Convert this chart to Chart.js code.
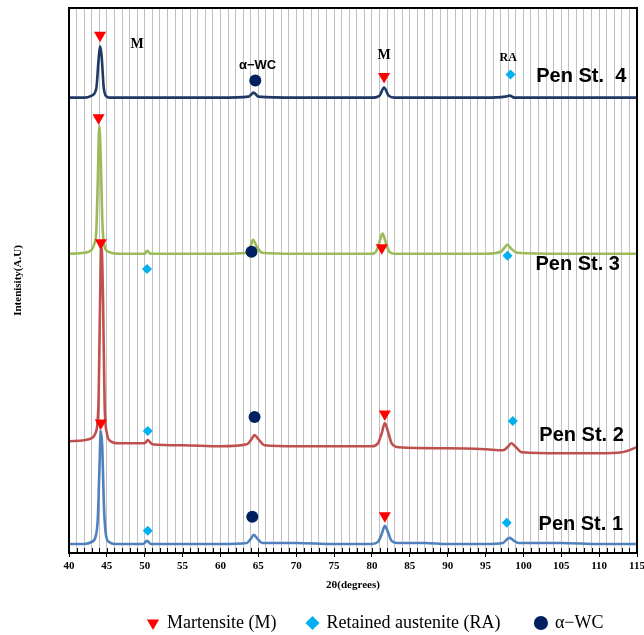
<!DOCTYPE html>
<html>
<head>
<meta charset="utf-8">
<script src="https://cdn.jsdelivr.net/npm/chart.js@4.4.0/dist/chart.umd.min.js"></script>
<style>
  html, body { margin: 0; padding: 0; background: #fff; }
</style>
</head>
<body>
<canvas id="xrd" width="644" height="635"></canvas>
<script>
// 2theta positions and intensities (arbitrary units, curves stacked with offsets)
const st1X = [40, 42, 43, 43.5, 43.8, 44.0, 44.2, 44.4, 44.6, 44.9, 45.3, 46, 49.8, 50.3, 50.8, 55, 60, 63.5, 64.0, 64.4, 64.9, 65.5, 70, 75, 80, 80.8, 81.3, 81.7, 82.1, 82.6, 83.3, 87, 90, 95, 97.3, 97.9, 98.2, 98.6, 99.3, 105, 110, 115];
const st1Y = [9, 9, 11, 16, 34, 79, 121, 104, 49, 17, 11, 9, 9, 12, 9, 9, 9, 10, 14, 18, 14, 10, 10, 9, 9, 11, 19, 27, 21, 12, 10, 10, 9, 9, 10, 14, 15, 13, 10, 10, 9, 9];

const st2X = [40, 42, 43, 43.5, 43.9, 44.1, 44.3, 44.5, 44.7, 45.0, 45.5, 46.5, 50, 50.4, 51, 55, 60, 63.5, 64.1, 64.5, 65.0, 65.8, 70, 75, 80, 80.8, 81.3, 81.7, 82.1, 82.6, 83.5, 90, 95, 97.3, 97.9, 98.4, 98.9, 99.8, 105, 110, 113, 115];
const st2Y = [111, 112, 114, 119, 149, 249, 303, 249, 149, 119, 111, 109, 109, 112, 108, 107, 106, 108, 113, 117, 113, 107, 106, 106, 106, 109, 119, 129, 121, 109, 105, 104, 103, 102, 105, 109, 106, 100, 99, 99, 100, 105];

const st3X = [40, 42, 43, 43.3, 43.6, 43.8, 44.0, 44.2, 44.4, 44.7, 45.2, 46.5, 50, 50.3, 50.8, 55, 60, 63.5, 64.0, 64.3, 64.8, 65.5, 70, 75, 80, 80.6, 81.0, 81.4, 81.8, 82.3, 83, 90, 95, 97.0, 97.5, 97.9, 98.4, 99.2, 105, 110, 115];
const st3Y = [297, 298, 301, 306, 319, 369, 424, 389, 329, 304, 299, 297, 297, 300, 297, 297, 297, 298, 305, 311, 304, 298, 297, 297, 297, 300, 309, 317, 309, 299, 297, 297, 297, 299, 303, 306, 302, 298, 297, 297, 297];

const st4X = [40, 42, 43, 43.6, 43.9, 44.1, 44.3, 44.6, 45.0, 45.5, 50, 55, 60, 63.7, 64.4, 65.0, 70, 75, 80, 81.0, 81.6, 82.2, 83, 90, 95, 97.6, 98.2, 98.8, 105, 110, 115];
const st4Y = [452, 452, 454, 461, 489, 503, 494, 461, 453, 452, 452, 452, 452, 453, 457, 453, 452, 452, 452, 454, 462, 454, 452, 452, 452, 453, 454, 452, 452, 452, 452];

const sampleNames = ['Pen St. 1', 'Pen St. 2', 'Pen St. 3', 'Pen St.  4'];
const sampleColors = ['#4F81BD', '#C0504D', '#9BBB59', '#1F3864'];

// phase markers
const martX = [44.1, 43.9, 44.2, 44.2, 81.6, 81.3, 81.7, 81.7];
const martY = [514, 432, 308, 129, 473, 303, 138, 37];
const raX = [98.3, 50.3, 97.9, 50.4, 98.6, 50.4, 97.8];
const raY = [475, 282, 295, 121, 131, 22, 30];
const wcX = [64.6, 64.1, 64.5, 64.2];
const wcY = [469, 299, 135, 36];
const phaseNames = ['Martensite (M)', 'Retained austenite (RA)', 'α−WC'];

// peak tags on the top pattern and sample labels
const tagText = ['M', 'α−WC', 'M', 'RA'];
const tagX = [49.0, 64.9, 81.6, 98.0];
const tagY = [505, 484, 494, 491];
const penX = [102.0, 102.1, 101.6, 101.7];
const penY = [28, 117, 286, 473];

const pts = (xs, ys) => xs.map((x, i) => ({ x: x, y: ys[i] }));

const curves = [[st1X, st1Y], [st2X, st2Y], [st3X, st3Y], [st4X, st4Y]].map((c, i) => ({
  label: sampleNames[i],
  data: pts(c[0], c[1]),
  borderColor: sampleColors[i],
  borderWidth: 2.6,
  pointRadius: 0,
  cubicInterpolationMode: 'monotone',
  order: 4 - i
}));

const markers = [
  { label: phaseNames[0], data: pts(martX, martY), pointStyle: 'triangle', rotation: 180, pointRadius: 7,
    backgroundColor: '#FF0000', borderColor: '#FF0000' },
  { label: phaseNames[1], data: pts(raX, raY), pointStyle: 'rectRot', pointRadius: 5,
    backgroundColor: '#00B0F0', borderColor: '#00B0F0' },
  { label: phaseNames[2], data: pts(wcX, wcY), pointStyle: 'circle', pointRadius: 6,
    backgroundColor: '#002060', borderColor: '#002060' }
].map(d => Object.assign(d, { showLine: false, order: 0, borderWidth: 0 }));

const extras = {
  id: 'extras',
  afterDatasetsDraw(chart) {
    const { ctx, chartArea: a, scales: { x, y } } = chart;
    ctx.save();
    // minor ticks inside the bottom axis
    ctx.strokeStyle = '#000';
    ctx.lineWidth = 1;
    for (let v = 41; v < 115; v++) {
      const px = Math.round(x.getPixelForValue(v)) + 0.5;
      ctx.beginPath();
      ctx.moveTo(px, a.bottom);
      ctx.lineTo(px, a.bottom - 5);
      ctx.stroke();
    }
    // frame
    ctx.lineWidth = 2;
    ctx.strokeRect(a.left, a.top, a.right - a.left, a.bottom - a.top);

    ctx.fillStyle = '#000';
    ctx.textAlign = 'center';
    ctx.textBaseline = 'middle';
    tagText.forEach((t, i) => {
      ctx.font = t === 'α−WC' ? 'bold 13px "Liberation Sans"' : (t === 'RA' ? 'bold 12px "Liberation Serif"' : 'bold 14px "Liberation Serif"');
      ctx.fillText(t, x.getPixelForValue(tagX[i]), y.getPixelForValue(tagY[i]));
    });
    ctx.textAlign = 'left';
    ctx.font = 'bold 20px "Liberation Sans"';
    sampleNames.forEach((t, i) => {
      ctx.fillText(t, x.getPixelForValue(penX[i]), y.getPixelForValue(penY[i]));
    });
    ctx.restore();
  }
};

const baseLabels = Chart.defaults.plugins.legend.labels.generateLabels;

new Chart(document.getElementById('xrd'), {
  type: 'line',
  data: { datasets: curves.concat(markers) },
  plugins: [extras],
  options: {
    responsive: false,
    animation: false,
    layout: { padding: { top: 8, right: 5, left: 0, bottom: -7 } },
    plugins: {
      tooltip: { enabled: false },
      legend: {
        position: 'bottom',
        align: 'end',
        labels: {
          generateLabels: chart => baseLabels(chart)
            .filter(l => l.datasetIndex >= 4)
            .map((l, i) => Object.assign(l, { text: l.text + (i === 0 ? '\u2002' : '\u2002 ') })),
          usePointStyle: true,
          boxWidth: 10,
          boxHeight: 10,
          color: '#000',
          padding: 22,
          font: { family: 'Liberation Serif', size: 18 }
        }
      }
    },
    scales: {
      x: {
        type: 'linear',
        min: 40,
        max: 115,
        afterFit: s => { s.height = 39; s.paddingLeft = 0; s.paddingRight = 0; },
        ticks: {
          stepSize: 1,
          autoSkip: false,
          maxRotation: 0,
          color: '#000',
          padding: 3,
          font: { family: 'Liberation Serif', size: 11, weight: 'bold' },
          callback: v => (v % 5 === 0 ? v : '')
        },
        grid: {
          color: '#C0C0C0',
          lineWidth: 1,
          tickLength: 4,
          tickColor: c => (c.tick && c.tick.value % 5 === 0 ? '#000' : 'rgba(0,0,0,0)')
        },
        border: { color: '#000', width: 2 },
        title: {
          display: true,
          text: '2θ(degrees)',
          color: '#000',
          padding: { top: 4, bottom: 0 },
          font: { family: 'Liberation Serif', size: 11, weight: 'bold' }
        }
      },
      y: {
        min: 0,
        max: 541,
        afterFit: s => { s.width = 69; },
        ticks: { display: false },
        grid: { display: false },
        border: { color: '#000', width: 2 },
        title: {
          display: true,
          text: 'Intenisity(A.U)',
          color: '#000',
          padding: { top: 12, bottom: 0 },
          font: { family: 'Liberation Serif', size: 11, weight: 'bold' }
        }
      }
    }
  }
});
</script>
</body>
</html>
